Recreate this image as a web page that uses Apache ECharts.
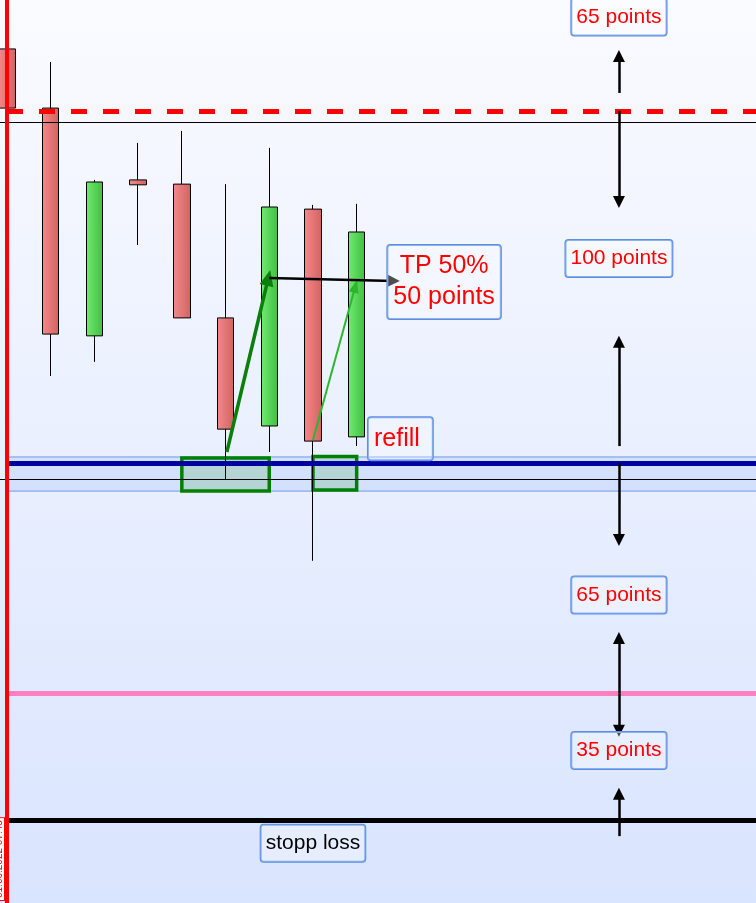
<!DOCTYPE html>
<html><head><meta charset="utf-8">
<script src="https://cdn.jsdelivr.net/npm/echarts@6/dist/echarts.min.js"></script>
<style>html,body{margin:0;padding:0;overflow:hidden}#c{width:756px;height:903px}</style>
</head><body><div id="c"></div>
<script>
// ---- data (price units; 1 point = 1 unit) ----
const categories = ['1','2','3','4','5','6','7','8','9','10','11','12','13','14','15','16','17','18','19'];
// [open, close, low, high]
const candles = [
  [1117.6, 1100.8, 1100.8, 1117.6],
  [1100.8, 1036.6, 1024.7, 1113.9],
  [1036.1, 1079.8, 1028.7, 1080.4],
  [1080.4, 1079.0, 1061.9, 1090.9],
  [1079.2, 1041.2, 1041.2, 1094.3],
  [1041.2, 1009.6,  995.4, 1079.2],
  [1010.5, 1072.7, 1003.1, 1089.5],
  [1072.1, 1006.2,  972.2, 1073.3],
  [1007.4, 1065.6, 1004.8, 1073.6]
];
const levelTarget = 1100.0;     // red dashed
const levelThinTop = 1096.8;    // thin black
const levelEntry = 1000.0;      // dark blue
const levelThinMid = 995.4;     // thin black
const entryZone = [1001.7, 992.0];
const levelPink = 934.6;
const levelStop = 898.6;        // stop loss
const refillZones = [[4, 1001.4, 6, 992.0], [7, 1001.8, 8, 992.3]];
// arrows on a continuous bar-index axis: [x, from, to] (to = arrowhead centre)
const arrowX = 14;
const vArrows = [[1105.1, 1115.6], [1100.0, 1074.1], [1004.8, 1034.4], [1000.0, 978.1],
                 [934.6, 950.3], [934.6, 923.9], [894.0, 906.0]];
const moveArrows = [[5.03, 1003.1, 5.98, 1052.6, 'thick'], [7.0, 1006.5, 7.97, 1050.2, 'thin']];
const tpArrow = [6.0, 1052.5, 8.85, 1051.7];
const pointLabels = [
  ['65 points', 14, 1126.7],
  ['100 points', 14, 1058.1],
  ['65 points', 14, 962.5],
  ['35 points', 14, 918.3]
];
const tpLabel = ['TP 50%\n50 points', 10, 1051.4];
const refillLabel = ['refill', 9, 1006.9];
const stopLabel = ['stopp loss', 7, 892.0];
const sessionLabel = '01.06.2022 07:45';
const yMin = 875, yMax = 1131.5;

// ---- styles ----
const FONT = '"Liberation Sans", Arial, sans-serif';
const lastCat = categories.length - 1;
const grad = (a, b) => ({type:'linear', x:0, y:0, x2:1, y2:0, colorStops:[{offset:0,color:a},{offset:1,color:b}]});
const hLine = (y, color, width, type) => [
  {coord:[0, y], lineStyle:{color, width, type}},
  {coord:[lastCat, y]}
];
const boxLabel = (color, size, padding, extra) => Object.assign({
  show:true, position:'inside', color, fontSize:size, fontFamily:FONT,
  backgroundColor:'rgba(255,255,255,0.3)', borderColor:'#5b8ee6', borderWidth:1, borderRadius:3,
  padding, align:'center', verticalAlign:'middle'
}, extra || {});

const arrowLines = vArrows.map(a => [
  {coord:[arrowX, a[0]], symbol:'none'},
  {coord:[arrowX, a[1]], symbol:'triangle'}
]);

const moveLines = moveArrows.map(a => {
  const thick = a[4] === 'thick';
  const size = thick ? [14,16] : [10,13];
  return [
    {coord:[a[0], a[1]], symbol:'none', lineStyle: thick ? {color:'#0a7f0a', width:3.5, type:'solid'} : {color:'#2eb52e', width:2, type:'solid'},
     symbolSize:size},
    {coord:[a[2], a[3]], symbol:'triangle', symbolSize:size}
  ];
});
moveLines.push([
  {coord:[tpArrow[0], tpArrow[1]], symbol:'none', lineStyle:{color:'#000', width:2.5, type:'solid'}},
  {coord:[tpArrow[2], tpArrow[3]], symbol:'triangle'}
]);

const chart = echarts.init(document.getElementById('c'), null, {renderer:'canvas'});
chart.setOption({
  animation:false,
  backgroundColor: {type:'linear', x:0, y:0, x2:0, y2:1, colorStops:[{offset:0,color:'#fafbff'},{offset:1,color:'#d9e4fe'}]},
  grid:{left:-14.86, top:0, width:categories.length*43.71, height:903, outerBoundsMode:'none', containLabel:false},
  xAxis:[
    {type:'category', data:categories, show:false, boundaryGap:true},
    {type:'value', min:-0.5, max:categories.length - 0.5, show:false, splitLine:{show:false}}
  ],
  yAxis:{type:'value', min:yMin, max:yMax, show:false, splitLine:{show:false}},
  series:[
    {type:'line', data:[], z:1, silent:true,
     markArea:{silent:true, label:{show:false},
       itemStyle:{color:'#d3e1fe', borderColor:'#6c9ae8', borderWidth:1},
       data:[[{coord:[0, entryZone[0]]},{coord:[lastCat, entryZone[1]]}]]}},
    {type:'line', data:[], z:2, silent:true,
     markArea:{silent:true, label:{show:false},
       itemStyle:{color:'#b5d4d6', borderColor:'#008000', borderWidth:3.5},
       data: refillZones.map(r => [{coord:[r[0], r[1]]},{coord:[r[2], r[3]]}])}},
    {type:'candlestick', data:candles, z:3, barWidth:17, silent:true,
     itemStyle:{color:grad('#72ea72','#3fbf3f'), color0:grad('#f38a8a','#d26262'),
       borderColor:'#000', borderColor0:'#000', borderWidth:1}},
    {type:'line', data:[], z:4, silent:true,
     markLine:{silent:true, symbol:'none', label:{show:false}, animation:false,
       data:[
         {yAxis:levelThinTop, lineStyle:{color:'#000', width:1, type:'solid'}},
         {yAxis:levelThinMid, lineStyle:{color:'#000', width:1, type:'solid'}},
         hLine(levelTarget, '#ff0000', 5, [16,16]),
         hLine(levelEntry, '#0000a0', 5, 'solid'),
         hLine(levelPink, '#ff80c0', 5, 'solid'),
         hLine(levelStop, '#000000', 5, 'solid'),
         {xAxis:0, lineStyle:{color:'#ff0000', width:4, type:'solid'},
          label:{show:true, position:'insideStartTop', formatter:sessionLabel, color:'#ff0000', fontSize:10, fontFamily:FONT,
                 backgroundColor:'#fff', borderColor:'#ff0000', borderWidth:1, padding:[0,2], distance:3}}
       ]}},
    {type:'line', data:[], xAxisIndex:1, z:5, silent:true,
     markLine:{silent:true, label:{show:false}, animation:false,
       symbolSize:[12,12],
       lineStyle:{color:'#000', width:2.5, type:'solid'},
       data: arrowLines.concat(moveLines)}},
    {type:'line', data:[], z:6, silent:true,
     markPoint:{silent:true, symbol:'rect', symbolSize:1, itemStyle:{color:'rgba(0,0,0,0)'}, animation:false,
       data: pointLabels.map(p => ({coord:[p[1], p[2]], label:boxLabel('#ff0000', 21, [8,5], {formatter:p[0]})}))
         .concat([
           {coord:[tpLabel[1], tpLabel[2]], label:boxLabel('#ff0000', 25, [6,6], {formatter:tpLabel[0], lineHeight:31})},
           {coord:[refillLabel[1], refillLabel[2]], label:boxLabel('#ff0000', 25, [9,13,9,6], {formatter:refillLabel[0]})},
           {coord:[stopLabel[1], stopLabel[2]], label:boxLabel('#000000', 21, [8,5], {formatter:stopLabel[0]})}
         ])}}
  ]
});
</script></body></html>
